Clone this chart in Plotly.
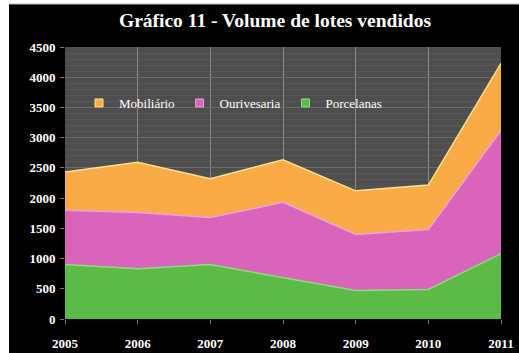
import plotly.graph_objects as go

# Lots sold per year, by category
anos = ["2005", "2006", "2007", "2008", "2009", "2010", "2011"]
porcelanas = [900, 830, 900, 680, 470, 490, 1080]
ourivesaria = [900, 930, 780, 1250, 930, 990, 2040]
mobiliario = [630, 835, 640, 705, 720, 735, 1110]

y_ticks = list(range(0, 5000, 500))

W, H = 519, 353
L, R, T, B = 65, 18, 47, 34

series = [
    ("Porcelanas", porcelanas, "#5cba47", "#8fdc7c"),
    ("Ourivesaria", ourivesaria, "#d865b9", "#f0a0dc"),
    ("Mobiliário", mobiliario, "#f8ab46", "#ffe08a"),
]

fig = go.Figure()
for name, vals, fill, edge in series:
    fig.add_trace(go.Scatter(
        x=anos, y=vals, name=name, stackgroup="one", mode="lines",
        line=dict(color=edge, width=1.5), fillcolor=fill,
        legendgroup=name, showlegend=False, hoverinfo="x+y+name",
    ))

# small square legend keys
for name, vals, fill, edge in reversed(series):
    fig.add_trace(go.Scatter(
        x=[None], y=[None], name=name, mode="markers",
        marker=dict(symbol="square", size=8, color=fill,
                    line=dict(color=edge, width=1)),
        legendgroup=name, showlegend=True,
    ))

pw = W - L - R
ph = H - T - B
# white strips along the left and top edges of the page
fig.add_shape(type="rect", xref="paper", yref="paper",
              x0=-L / pw, x1=(9 - L) / pw, y0=-B / ph, y1=(H - 0) / ph + 1,
              fillcolor="white", line_width=0, layer="above")
fig.add_shape(type="rect", xref="paper", yref="paper",
              x0=-L / pw, x1=1 + R / pw, y0=1 + (T - 4) / ph, y1=1 + T / ph + 0.1,
              fillcolor="white", line_width=0, layer="above")
fig.add_shape(type="line", xref="paper", yref="paper",
              x0=(9 - L) / pw, x1=1 + R / pw, y0=1 + (T - 4) / ph, y1=1 + (T - 4) / ph,
              line=dict(color="#bbbbbb", width=1), layer="above")

tick_font = dict(family="Liberation Serif", size=13, color="white", weight="bold")

fig.update_layout(
    width=W, height=H,
    margin=dict(l=L, r=R, t=T, b=B),
    paper_bgcolor="#000000",
    plot_bgcolor="#4e4e4e",
    title=dict(
        text="<b>Gráfico 11 - Volume de lotes vendidos</b>",
        x=275 / W, xanchor="center", y=1 - 20 / H, yanchor="middle",
        font=dict(family="Liberation Serif", size=19.5, color="white"),
    ),
    font=dict(family="Liberation Serif", color="white", size=12),
    legend=dict(
        orientation="h", x=(79 - L) / pw, y=1 - (103 - T) / ph,
        xanchor="left", yanchor="middle",
        bgcolor="rgba(0,0,0,0)", font=dict(size=13, color="white"),
        itemwidth=30, tracegroupgap=0,
    ),
    showlegend=True,
)

fig.update_xaxes(
    type="category", range=[0, len(anos) - 1],
    showgrid=True, gridcolor="#8a8a8a", gridwidth=1,
    ticks="outside", ticklen=4, tickcolor="#777777",
    tickfont=tick_font, ticklabelstandoff=8, automargin=False,
    showline=False, zeroline=False,
)
fig.update_yaxes(
    range=[0, 4500], tickvals=y_ticks,
    showgrid=True, gridcolor="#6c6c6c", gridwidth=1,
    minor=dict(dtick=100, showgrid=True, gridcolor="#575757", gridwidth=1),
    ticks="outside", ticklen=4, tickcolor="#777777",
    tickfont=tick_font, ticklabelstandoff=2, automargin=False,
    showline=False, zeroline=False,
)

fig.write_html("out.html")
